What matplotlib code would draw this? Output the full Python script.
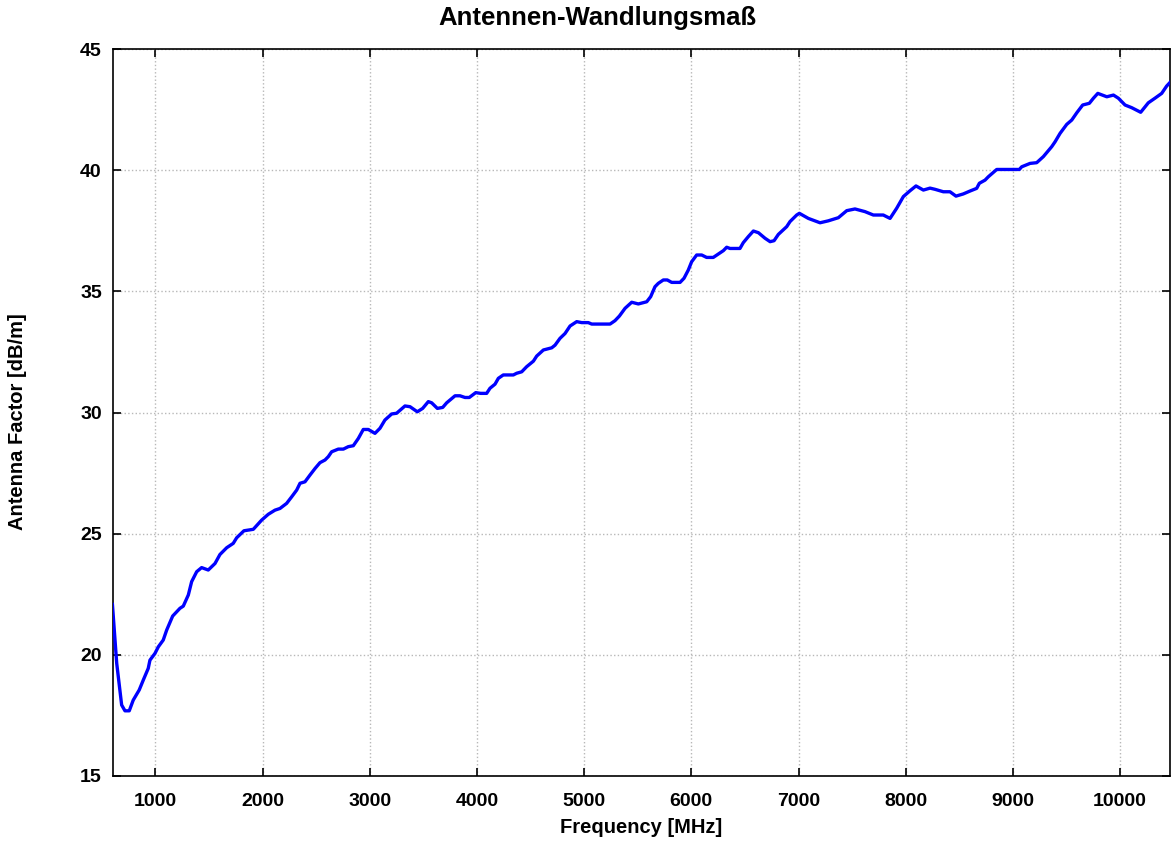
import matplotlib
matplotlib.use('Agg')
import matplotlib.pyplot as plt

plt.rcParams['font.family'] = ['Liberation Sans', 'DejaVu Sans']
plt.rcParams['font.weight'] = 'bold'

# Frequenz [MHz] und Antennenfaktor [dB/m]
freq = [600, 640, 686, 717, 757, 794, 850, 888, 934, 950, 997, 1028, 1074, 1106,
        1162, 1230, 1261, 1308, 1339, 1386, 1432, 1494, 1557, 1603, 1666, 1727,
        1759, 1827, 1914, 1992, 2054, 2116, 2163, 2225, 2272, 2319, 2350, 2396,
        2443, 2490, 2536, 2583, 2614, 2645, 2707, 2754, 2800, 2847, 2894, 2940,
        2987, 3049, 3096, 3142, 3205, 3251, 3329, 3376, 3444, 3494, 3547, 3578,
        3631, 3681, 3718, 3796, 3842, 3889, 3929, 3989, 4035, 4091, 4122, 4169,
        4200, 4246, 4340, 4371, 4418, 4464, 4527, 4558, 4620, 4698, 4729, 4775,
        4822, 4869, 4931, 4978, 5039, 5071, 5242, 5288, 5329, 5382, 5444, 5506,
        5584, 5621, 5661, 5692, 5739, 5776, 5817, 5895, 5932, 5972, 6003, 6050,
        6097, 6143, 6205, 6252, 6299, 6330, 6361, 6454, 6485, 6532, 6579, 6626,
        6688, 6735, 6772, 6812, 6890, 6921, 6983, 7008, 7092, 7201, 7278, 7372,
        7450, 7527, 7620, 7698, 7791, 7854, 7916, 7978, 8040, 8096, 8165, 8227,
        8274, 8351, 8413, 8469, 8537, 8600, 8662, 8687, 8740, 8771, 8849, 8942,
        9060, 9082, 9160, 9222, 9284, 9362, 9393, 9440, 9502, 9549, 9596, 9651,
        9713, 9751, 9792, 9876, 9938, 9984, 10046, 10108, 10192, 10263, 10325,
        10388, 10434, 10480]
af = [22.08, 19.65, 17.93, 17.69, 17.69, 18.13, 18.55, 18.96, 19.44, 19.78, 20.06,
      20.33, 20.61, 21.02, 21.60, 21.92, 22.01, 22.47, 23.02, 23.43, 23.60, 23.50,
      23.77, 24.14, 24.42, 24.60, 24.83, 25.12, 25.18, 25.56, 25.80, 25.97, 26.04,
      26.25, 26.52, 26.80, 27.08, 27.14, 27.42, 27.69, 27.93, 28.04, 28.18, 28.38,
      28.49, 28.49, 28.59, 28.63, 28.93, 29.30, 29.30, 29.14, 29.35, 29.69, 29.94,
      29.97, 30.27, 30.24, 30.03, 30.17, 30.45, 30.40, 30.17, 30.21, 30.40, 30.69,
      30.69, 30.62, 30.62, 30.82, 30.79, 30.79, 31.00, 31.17, 31.41, 31.55, 31.55,
      31.62, 31.68, 31.89, 32.12, 32.33, 32.58, 32.67, 32.78, 33.06, 33.26, 33.57,
      33.75, 33.71, 33.71, 33.65, 33.65, 33.79, 33.98, 34.30, 34.55, 34.48, 34.57,
      34.78, 35.19, 35.33, 35.47, 35.47, 35.37, 35.37, 35.54, 35.88, 36.22, 36.50,
      36.50, 36.40, 36.40, 36.54, 36.68, 36.82, 36.77, 36.77, 37.01, 37.26, 37.49,
      37.42, 37.19, 37.05, 37.09, 37.35, 37.67, 37.88, 38.15, 38.22, 38.01, 37.83,
      37.91, 38.04, 38.33, 38.40, 38.29, 38.15, 38.15, 38.01, 38.43, 38.91, 39.15,
      39.35, 39.18, 39.26, 39.21, 39.11, 39.11, 38.93, 39.02, 39.14, 39.25, 39.46,
      39.59, 39.73, 40.03, 40.03, 40.03, 40.14, 40.28, 40.31, 40.56, 40.97, 41.17,
      41.52, 41.89, 42.07, 42.37, 42.69, 42.76, 42.97, 43.17, 43.03, 43.10, 42.97,
      42.69, 42.58, 42.39, 42.78, 42.97, 43.17, 43.47, 43.69]

xticks = [1000, 2000, 3000, 4000, 5000, 6000, 7000, 8000, 9000, 10000]
yticks = [15, 20, 25, 30, 35, 40, 45]

fig = plt.figure(figsize=(11.73, 8.41), dpi=100)
ax = fig.add_axes([0.0963, 0.0773, 0.9011, 0.8644])

ax.plot(freq, af, color='#0000ff', linewidth=2.4, zorder=3)

ax.set_xlim(605, 10465)
ax.set_ylim(15, 45)
ax.set_xticks(xticks)
ax.set_yticks(yticks)
ax.grid(True, linestyle=':', color='#b8b8b8', linewidth=1.0)
ax.tick_params(direction='in', top=True, right=True, length=6, width=1.2,
               labelsize=14)
ax.tick_params(axis='x', pad=12)
ax.tick_params(axis='y', pad=8)
for lab in ax.get_xticklabels() + ax.get_yticklabels():
    lab.set_fontweight('bold')
for s in ax.spines.values():
    s.set_linewidth(1.2)

# Titel leicht links von der Achsenmitte, wie im Original
fig.text(0.509, 0.970, 'Antennen-Wandlungsmaß', fontsize=18.5, fontweight='bold',
         ha='center', va='baseline')
ax.set_xlabel('Frequency [MHz]', fontsize=14.5, fontweight='bold', va='baseline')
ax.xaxis.set_label_coords(0.5, -0.0784)
ax.set_ylabel('Antenna Factor [dB/m]', fontsize=14.5, fontweight='bold',
              va='center', ha='center')
ax.yaxis.set_label_coords(-0.0903, 0.488)

fig.savefig('out.png', dpi=100)
